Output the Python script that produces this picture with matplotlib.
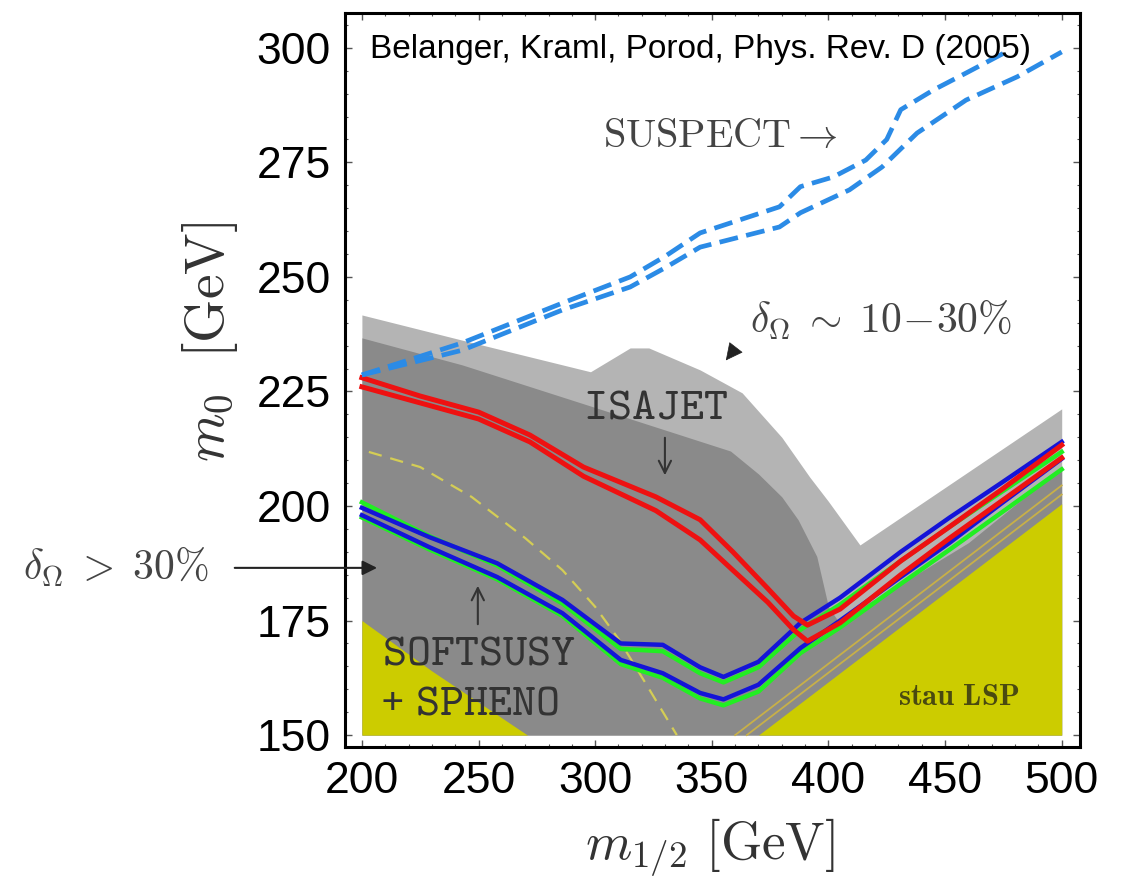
import numpy as np
import matplotlib.pyplot as plt
from matplotlib.ticker import MultipleLocator

plt.rcParams['mathtext.fontset'] = 'cm'
plt.rcParams['font.family'] = ['Liberation Sans', 'DejaVu Sans']

# ---- regions (upper edges, filled down to m0 = 150) ----
band_x = [200, 243, 298, 315, 323, 345, 363, 380, 392, 400, 413.5, 500]
band_y = [241.7, 236.2, 229.3, 234.5, 234.5, 229.7, 224.7, 215, 206.3, 201, 191.5, 221.2]

dark_x = [200, 243, 300, 358, 370, 380, 387, 395, 400, 404, 431, 460, 500]
dark_y = [236.7, 230.8, 221.5, 212, 207, 202, 197, 189, 178, 175, 183, 192, 208.5]

# stau LSP (yellow)
stau_l_x = [200, 230, 271]
stau_l_y = [175, 164, 150]
stau_r_x = [370, 500]
stau_r_y = [150, 200.5]

# thin olive lines along the stau boundary
olive1_x = [360, 500]
olive1_y = [150, 204.5]
olive2_x = [365, 500]
olive2_y = [150, 202.5]

# yellow dashed contour
ydash_x = [203, 225, 247, 270, 286, 300, 310, 322, 335]
ydash_y = [211.8, 208.5, 202, 193, 186, 178, 171, 161, 150]

# SUSPECT (blue dashed)
su1_x = [200, 243, 286, 315, 330, 345, 379, 388, 402, 416, 425, 431, 445, 459, 478]
su1_y = [228.6, 235.6, 244.3, 250, 254.5, 259.6, 265.3, 269.7, 271.8, 275.5, 280, 286.5, 290.8, 294.5, 299.6]
su2_x = [200, 243, 286, 315, 330, 345, 379, 388, 409, 423, 438, 459, 481, 500]
su2_y = [228.6, 234, 242.8, 247.8, 252, 256.5, 260.9, 264, 269, 274, 281.4, 288.6, 293.7, 299.1]

# ISAJET (red)
isa_x = [200, 225, 250, 272, 295, 326, 345, 359, 374, 385, 391, 405, 431, 452, 474, 500]
isa1_y = [228, 224, 220.5, 215.5, 208.5, 202, 197, 190, 182, 176, 174, 177.5, 188, 195.5, 203.5, 213.3]
isa2_y = [226, 222.5, 219, 214, 206.5, 199, 192.6, 186, 179, 173, 170.5, 174.5, 185, 193, 201, 210.5]

# SOFTSUSY (blue) + SPHENO (green)
soft_x = [200, 229, 258, 286, 311, 329, 345, 355, 370, 388, 405, 431, 452, 474, 500]
soft1_y = [199.6, 193.2, 187.5, 179.5, 170, 169.7, 164.8, 162.7, 166, 174.5, 180, 190, 197.5, 205, 214]
soft2_y = [198, 191, 184.5, 176.6, 166.4, 163.5, 159.2, 157.8, 161, 169, 175, 184.5, 192, 200.5, 210.3]
sph1_y = [200.8, 193.4, 187, 178.7, 168.8, 168.3, 163.5, 161.5, 164.8, 173, 178.5, 188, 195.5, 203, 211.8]
sph2_y = [197.5, 190.5, 184, 176, 165.5, 162.5, 158, 156.5, 159.5, 167.9, 173.5, 183, 190.5, 198.5, 208]

xticks = [200, 250, 300, 350, 400, 450, 500]
yticks = [150, 175, 200, 225, 250, 275, 300]

fig = plt.figure(figsize=(11.27, 8.91), dpi=100)
ax = fig.add_axes([0.306, 0.1616, 0.652, 0.8238])

ax.fill_between(band_x, 150, band_y, color='#b4b4b4', lw=0)
ax.fill_between(dark_x, 150, dark_y, color='#8a8a8a', lw=0)
ax.fill_between(stau_l_x, 150, stau_l_y, color='#cccc00', lw=0)
ax.fill_between(stau_r_x, 150, stau_r_y, color='#cccc00', lw=0)
ax.plot(olive1_x, olive1_y, color='#c8b048', lw=1.3)
ax.plot(olive2_x, olive2_y, color='#c8b048', lw=1.3)
ax.plot(ydash_x, ydash_y, color='#d4cd55', lw=1.6, dashes=(6, 4))

ax.plot(soft_x, sph1_y, color='#22ee22', lw=3.2, solid_joinstyle='round')
ax.plot(soft_x, sph2_y, color='#22ee22', lw=3.2, solid_joinstyle='round')
ax.plot(soft_x, soft1_y, color='#1414d8', lw=3.2, solid_joinstyle='round')
ax.plot(soft_x, soft2_y, color='#1414d8', lw=3.2, solid_joinstyle='round')
ax.plot(isa_x, isa1_y, color='#ee1111', lw=3.6, solid_joinstyle='round')
ax.plot(isa_x, isa2_y, color='#ee1111', lw=3.6, solid_joinstyle='round')

ax.plot(su1_x, su1_y, color='#2b8be6', lw=3.4, dashes=(4, 1.8))
ax.plot(su2_x, su2_y, color='#2b8be6', lw=3.4, dashes=(4, 1.8))

# annotations
tc = '#333333'
ax.text(203.4, 299.6, 'Belanger, Kraml, Porod, Phys. Rev. D (2005)', fontsize=24,
        ha='left', va='center', color='black')
ax.text(303.3, 280.8, r'$\mathrm{SUSPECT}\rightarrow$', fontsize=29, ha='left',
        va='center', color='#444444')
ax.text(366.3, 240.6, r'$\delta_\Omega\;\sim\;10\!-\!30\%$', fontsize=30, ha='left',
        va='center', color='#444444')
ax.annotate('', xy=(355.3, 231.3), xytext=(358.8, 233.6),
            arrowprops=dict(arrowstyle='-|>', color='#222222', mutation_scale=28, lw=0.5))
ax.text(294.7, 221.8, r'$\mathtt{ISAJET}$', fontsize=33, ha='left', va='center', color=tc)
ax.annotate('', xy=(329.9, 206.1), xytext=(329.9, 215.5),
            arrowprops=dict(arrowstyle='->', color=tc, lw=1.5, mutation_scale=22))
ax.text(208.6, 168.0, r'$\mathtt{SOFTSUSY}$', fontsize=33, ha='left', va='center', color=tc)
ax.text(208.4, 157.2, '+', fontsize=26, family='DejaVu Sans Mono', ha='left', va='center',
        color=tc)
ax.text(222.7, 157.2, r'$\mathtt{SPHENO}$', fontsize=33, ha='left', va='center', color=tc)
ax.annotate('', xy=(249.7, 183.2), xytext=(249.7, 173.6),
            arrowprops=dict(arrowstyle='->', color=tc, lw=1.5, mutation_scale=22))
ax.text(429.7, 158.3, r'$\mathbf{stau\ LSP}$', fontsize=22, ha='left', va='center',
        color='#4a4a10')
ax.text(54.7, 186.5, r'$\delta_\Omega\;>\;30\%$', fontsize=30, ha='left', va='center',
        color='#444444', clip_on=False)
ax.annotate('', xy=(207.7, 186.5), xytext=(144.3, 186.5), annotation_clip=False,
            arrowprops=dict(arrowstyle='-|>', color='#222222', lw=1.5, mutation_scale=22))

ax.set_xlim(192.7, 507.7)
ax.set_ylim(147.4, 307.6)
ax.set_xticks(xticks)
ax.set_yticks(yticks)
ax.xaxis.set_minor_locator(MultipleLocator(10))
ax.yaxis.set_minor_locator(MultipleLocator(5))
ax.tick_params(which='both', direction='in', top=True, right=True, color='#555555')
ax.tick_params(which='major', length=5, width=1, labelsize=32, pad=10)
ax.tick_params(which='minor', length=2.5, width=0.8)
for s in ax.spines.values():
    s.set_linewidth(2.2)

fig.text(210 / 1127, 1 - 342 / 891, r'$m_0\ \ [\mathrm{GeV}]$', rotation=90, fontsize=40,
         ha='center', va='center', color='#333333')
fig.text(710 / 1127, 1 - 848 / 891, r'$m_{1/2}\ [\mathrm{GeV}]$', fontsize=38,
         ha='center', va='center', color='#333333')

fig.savefig('out.png', dpi=100)
